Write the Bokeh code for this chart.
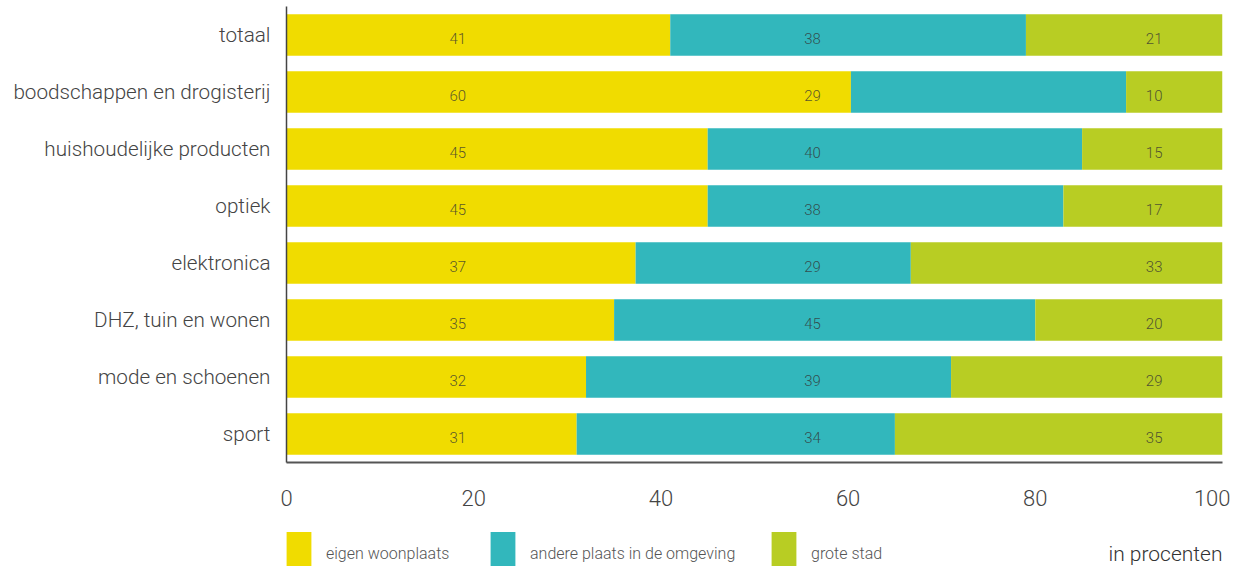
from bokeh.plotting import figure
from bokeh.layouts import column
from bokeh.models import FactorRange, Range1d, Legend, LegendItem, Label, ColumnDataSource, FixedTicker
from bokeh.core.properties import value
from bokeh.embed import file_html
from bokeh.resources import INLINE

categories = ["totaal", "boodschappen en drogisterij", "huishoudelijke producten", "optiek",
              "elektronica", "DHZ, tuin en wonen", "mode en schoenen", "sport"]
series = ["eigen woonplaats", "andere plaats in de omgeving", "grote stad"]
eigen = [41, 60.3, 45, 45, 37.3, 35, 32, 31]
andere = [38, 29.4, 40, 38, 29.4, 45, 39, 34]
grote = [21, 10.3, 15, 17, 33.3, 20, 29, 35]
x_ticks = [0, 20, 40, 60, 80, 100]
colors = ["#F0DC00", "#32B7BC", "#B8CD23"]
label_x = [18.3, 56.2, 92.7]   # fixed label column positions (as in reference)

FONT = "Roboto Light"

src = ColumnDataSource(dict(cat=categories, eigen=eigen, andere=andere, grote=grote))

p = figure(width=1230, height=514, output_backend="svg", toolbar_location=None,
           y_range=FactorRange(*categories[::-1], range_padding=0),
           x_range=Range1d(0, 100),
           min_border_left=286, min_border_right=8, min_border_top=6, min_border_bottom=52)
p.outline_line_color = None
p.grid.grid_line_color = None

rs = p.hbar_stack(["eigen", "andere", "grote"], y="cat", height=0.73, color=colors,
                  line_color=None, source=src)

vals = [eigen, andere, grote]
for i in range(3):
    lsrc = ColumnDataSource(dict(x=[label_x[i]] * len(categories), y=categories,
                                 t=[str(int(round(v))) for v in vals[i]]))
    p.text(x="x", y="y", text="t", source=lsrc, text_align="center", text_baseline="middle",
           y_offset=3, text_font=value(FONT), text_font_size="15px",
           text_color="#333333", text_alpha=0.8)

p.xaxis.ticker = FixedTicker(ticks=x_ticks)
p.xaxis.major_tick_line_color = None
p.xaxis.minor_tick_line_color = None
p.xaxis.axis_line_color = "#555555"
p.xaxis.axis_line_width = 2
p.xaxis.major_label_standoff = 21
p.xaxis.major_label_text_font = FONT
p.xaxis.major_label_text_font_size = "22px"
p.xaxis.major_label_text_color = "#444444"

p.yaxis.major_tick_line_color = None
p.yaxis.minor_tick_line_color = None
p.yaxis.axis_line_color = "#444444"
p.yaxis.axis_line_width = 1.5
p.yaxis.major_label_standoff = 10
p.yaxis.major_label_text_font = FONT
p.yaxis.major_label_text_font_size = "20.7px"
p.yaxis.major_label_text_color = "#444444"

# legend strip
q = figure(width=1230, height=52, output_backend="svg", toolbar_location=None,
           x_range=Range1d(0, 100), y_range=Range1d(0, 1),
           min_border_left=286, min_border_right=8, min_border_top=0, min_border_bottom=0)
q.axis.visible = False
q.grid.grid_line_color = None
q.outline_line_color = None

legend_x = [-3, 201, 482]
for i in range(3):
    r = q.hbar(y=[-5], right=[1], height=0.5, color=colors[i], line_color=None)
    lg = Legend(items=[LegendItem(label=series[i], renderers=[r])],
                location=(legend_x[i], -14), orientation="horizontal",
                glyph_width=31, glyph_height=54, label_standoff=12,
                padding=0, margin=0, border_line_color=None, background_fill_alpha=0,
                label_text_font=FONT, label_text_font_size="16px",
                label_text_color="#555555", label_text_baseline="middle")
    q.add_layout(lg, "center")

q.add_layout(Label(x=100, y=13, y_units="screen", text="in procenten",
                   text_align="right", text_baseline="middle", text_font=FONT,
                   text_font_size="21px", text_color="#333333"))

layout = column(p, q, spacing=0)
open("out.html", "w").write(file_html(layout, INLINE))
